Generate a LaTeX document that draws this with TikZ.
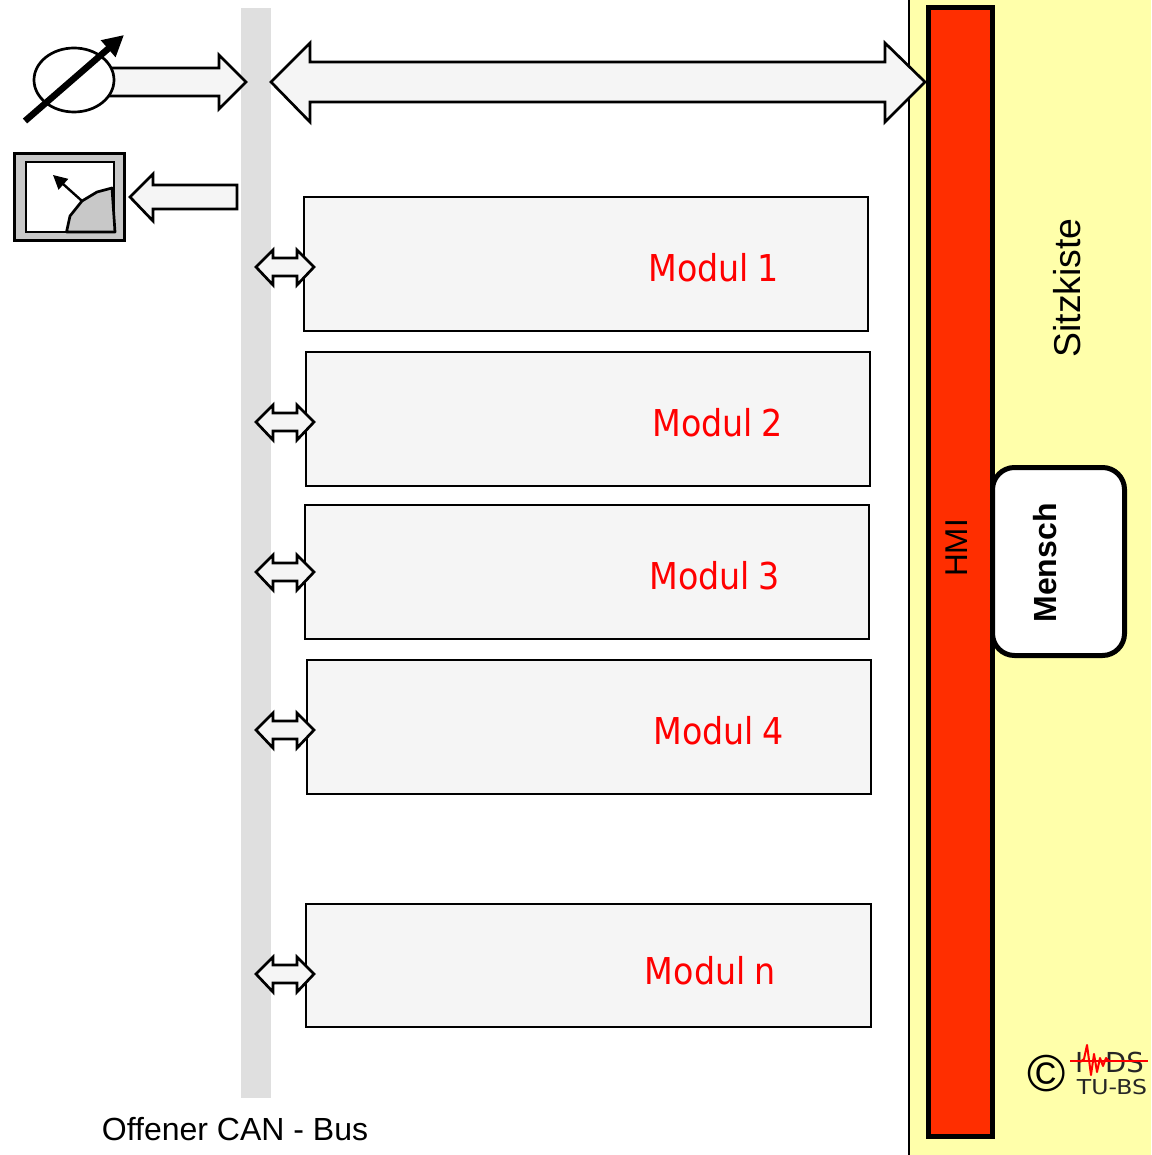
\documentclass[tikz,border=0pt]{standalone}
\usepackage{fontspec}
\setmainfont{Liberation Sans}
\newfontfamily\modfont[FakeStretch=0.9,WordSpace=0.8]{DejaVu Sans}
\newfontfamily\logofont{DejaVu Sans}
\newfontfamily\logowide[FakeStretch=1.15]{DejaVu Sans}
\usetikzlibrary{arrows.meta}
\tikzset{
  modbox/.style={draw=black,line width=2.4pt,fill=modgray,line join=miter},
  modlabel/.style={text=red,font=\modfont\fontsize{37}{37}\selectfont,inner sep=0pt},
  blockarrow/.style={draw=black,line width=2.7pt,fill=modgray,line join=miter},
  plain/.style={font=\fontsize{32}{32}\selectfont,inner sep=0pt}
}
\definecolor{modgray}{HTML}{F5F5F5}
\definecolor{busgray}{HTML}{DFDFDF}
\definecolor{seat}{HTML}{FFFFAA}
\definecolor{hmired}{HTML}{FF2E00}
\definecolor{gaugegray}{HTML}{C8C8C8}
\newcommand{\dblarrow}[1]{%
  \draw[blockarrow] (256,#1) -- (273,#1-17) -- (273,#1-9) -- (297,#1-9) -- (297,#1-17) -- (314,#1)
    -- (297,#1+18) -- (297,#1+9) -- (273,#1+9) -- (273,#1+18) -- cycle;}
\begin{document}
\begin{tikzpicture}[x=1pt,y=-1pt]
\useasboundingbox (0,0) rectangle (1151,1155);
% seat box and bus
\fill[seat] (909,0) rectangle (1151,1155);
\draw[line width=2.5pt] (909,0) -- (909,1155);
\node[fill=busgray,minimum width=30pt,minimum height=1090pt,inner sep=0pt,anchor=north west] (bus) at (241,8) {};
% modules
\draw[modbox] (304,197) rectangle (868,331);
\draw[modbox] (306,352) rectangle (870,486);
\draw[modbox] (305,505) rectangle (869,639);
\draw[modbox] (307,660) rectangle (871,794);
\draw[modbox] (306,904) rectangle (871,1027);
\node[modlabel] (m1) at (713.5,268) {Modul 1};
\node[modlabel] (m2) at (717.5,423) {Modul 2};
\node[modlabel] (m3) at (714.5,576) {Modul 3};
\node[modlabel] (m4) at (718.5,731) {Modul 4};
\node[modlabel] (mn) at (710,971) {Modul n};
\dblarrow{267}
\dblarrow{422}
\dblarrow{572}
\dblarrow{730}
\dblarrow{974}
% large arrows
\draw[blockarrow] (271,82) -- (310,43) -- (310,62) -- (885,62) -- (885,43) -- (925,82)
  -- (885,122) -- (885,102) -- (310,102) -- (310,122) -- cycle;
\draw[blockarrow] (105,68) -- (219,68) -- (219,55) -- (246,82) -- (219,109) -- (219,96) -- (105,96) -- cycle;
\draw[blockarrow] (130,197) -- (153,174) -- (153,185) -- (237,185) -- (237,209) -- (153,209) -- (153,221) -- cycle;
% sensor
\draw[line width=2.7pt,fill=white] (74,80) ellipse [x radius=40,y radius=32];
\draw[line width=6.5pt,-{Triangle[length=21pt,width=21pt]}] (25,121) -- (124,35);
% gauge
\draw[line width=3pt,fill=gaugegray] (14.5,153.5) rectangle (124.5,241);
\draw[line width=2.7pt,fill=white] (26,162) rectangle (114,232);
\draw[line width=2.7pt,fill=gaugegray,line join=round] (66.5,232) -- (70,216) -- (82,201) -- (97,192) -- (112,188) -- (115,232) -- cycle;
\draw[line width=2.4pt,-{Triangle[length=14pt,width=14pt]}] (82,201) -- (53,175);
% HMI
\node[draw=black,line width=5pt,fill=hmired,minimum width=64pt,minimum height=1128pt,inner sep=0pt,outer sep=0pt,anchor=north west] (hmi) at (928,8) {};
\node[rotate=90,inner sep=0pt,font=\fontsize{31.5}{31.5}\selectfont] (hmit) at (957,548) {HMI};
% Mensch
\node[draw=black,line width=5pt,fill=white,rounded corners=22pt,minimum width=132pt,minimum height=188pt,inner sep=0pt,outer sep=0pt,anchor=north west] (mensch) at (992.5,467.5) {};
\node[rotate=90,inner sep=0pt,font=\bfseries\fontsize{32}{32}\selectfont] (menscht) at (1045,563) {Mensch};
\node[rotate=90,inner sep=0pt,font=\fontsize{37.4}{37.4}\selectfont] (sitz) at (1067,288) {Sitzkiste};
% bus label
\node[plain] (buslabel) at (235,1129) {Offener CAN - Bus};
% logo
\node[inner sep=0pt,font=\fontsize{52}{52}\selectfont] (copy) at (1047,1074) {©};
\node[inner sep=0pt,anchor=base west,font=\logofont\fontsize{27.5}{27.5}\selectfont,text=black!85] (idsi) at (1075,1072) {I};
\node[inner sep=0pt,anchor=base west,font=\logofont\fontsize{27.5}{27.5}\selectfont,text=black!85] (idsd) at (1105,1072) {DS};
\node[inner sep=0pt,font=\logowide\fontsize{20.5}{20.5}\selectfont,text=black!85] (tubs) at (1112,1087) {TU-BS};
\draw[red,line width=1.4pt] (1070,1061) -- (1148,1061);
\draw[red,line width=2pt,line join=round] (1080,1062) -- (1084,1059) -- (1087,1045) -- (1091,1075) -- (1094,1054) -- (1097,1072) -- (1100,1058) -- (1103,1066) -- (1106,1058) -- (1109,1061);
\end{tikzpicture}
\end{document}
